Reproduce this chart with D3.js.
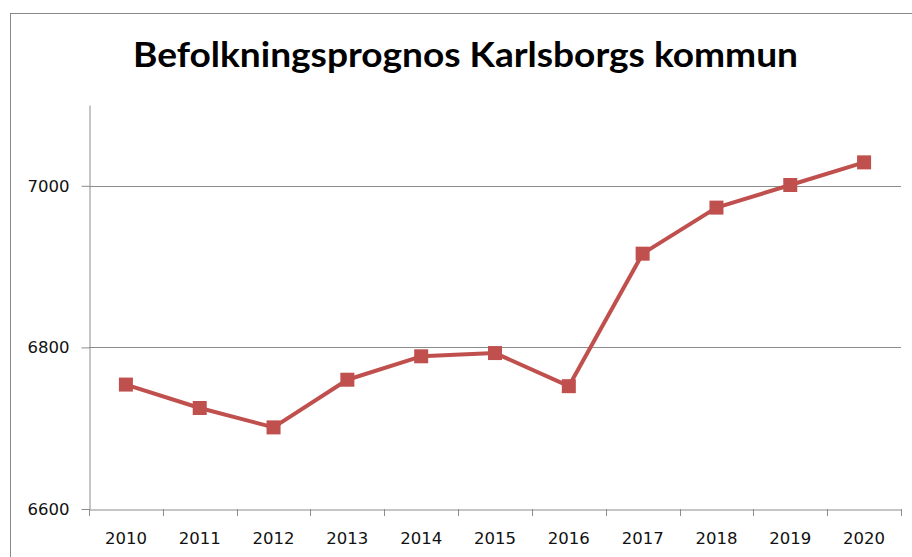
<!DOCTYPE html>
<html>
<head>
<meta charset="utf-8">
<script src="https://cdn.jsdelivr.net/npm/d3@7"></script>
<style>
  body { margin: 0; background: #fff; }
  svg { display: block; }
</style>
</head>
<body>
<div id="chart"></div>
<script>
// Chart data
const years = ['2010', '2011', '2012', '2013', '2014', '2015', '2016', '2017', '2018', '2019', '2020'];
const population = [6754, 6725, 6701, 6760, 6789, 6793, 6752, 6916, 6973, 7001, 7029];
const yTicks = [6600, 6800, 7000];
const yDomain = [6600, 7100];
const title = 'Befolkningsprognos Karlsborgs kommun';

const svgWidth = 912;
const svgHeight = 557;
const margin = { top: 105, right: 11, bottom: 48, left: 89 };
const chartWidth = svgWidth - margin.left - margin.right;
const chartHeight = 509 - margin.top;

let svg = d3.select('#chart')
    .append('svg')
    .attr('width', svgWidth)
    .attr('height', svgHeight);

// Outer chart border
svg.append('rect')
    .attr('x', 10.5)
    .attr('y', 13.5)
    .attr('width', svgWidth)
    .attr('height', svgHeight)
    .style('fill', 'none')
    .style('stroke', '#888')
    .style('stroke-width', 1);

// Title
svg.append('text')
    .attr('x', 133)
    .attr('y', 67)
    .attr('textLength', 665)
    .attr('lengthAdjust', 'spacingAndGlyphs')
    .style('font-family', 'Lato, sans-serif')
    .style('font-weight', 'bold')
    .style('font-size', '35px')
    .style('fill', '#000')
    .text(title);

let chart = svg.append('g')
    .attr('transform', `translate(${margin.left}, ${margin.top})`);

// Scales
let xScale = d3.scaleBand()
    .domain(years)
    .range([0, chartWidth]);

let yScale = d3.scaleLinear()
    .domain(yDomain)
    .range([chartHeight, 0]);

// Gridlines
chart.selectAll('.grid')
    .data(yTicks.filter(d => d !== yDomain[0]))
    .enter()
    .append('line')
    .attr('class', 'grid')
    .attr('x1', 0)
    .attr('x2', chartWidth)
    .attr('y1', d => Math.round(yScale(d)) + 0.5)
    .attr('y2', d => Math.round(yScale(d)) + 0.5)
    .style('stroke', '#8c8c8c')
    .style('stroke-width', 1);

// Y axis
let yAxis = chart.append('g')
    .attr('transform', 'translate(0.5, 0)')
    .call(d3.axisLeft(yScale).tickValues(yTicks).tickFormat(d3.format('d'))
        .tickSize(8).tickPadding(12).tickSizeOuter(0));

// X axis
let xAxis = chart.append('g')
    .attr('transform', `translate(0, ${chartHeight + 0.5})`)
    .call(d3.axisBottom(xScale).tickSize(0).tickPadding(23).tickSizeOuter(0));

// Category tick marks between bands
chart.selectAll('.xtick')
    .data(d3.range(years.length + 1))
    .enter()
    .append('line')
    .attr('class', 'xtick')
    .attr('x1', i => Math.round(i * xScale.step()) + 0.5)
    .attr('x2', i => Math.round(i * xScale.step()) + 0.5)
    .attr('y1', chartHeight)
    .attr('y2', chartHeight + 7)
    .style('stroke', '#8c8c8c');

[xAxis, yAxis].forEach(ax => {
    ax.attr('font-family', null).attr('font-size', null);
    ax.selectAll('path, line').style('stroke', '#8c8c8c');
    ax.selectAll('text')
        .style('font-family', "'DejaVu Sans', Verdana, sans-serif")
        .style('font-size', '16.5px')
        .style('fill', '#111');
});

// Line
let line = d3.line()
    .x((d, i) => xScale(years[i]) + xScale.bandwidth() / 2)
    .y(d => yScale(d));

chart.append('path')
    .datum(population)
    .attr('d', line)
    .style('fill', 'none')
    .style('stroke', '#c0504d')
    .style('stroke-width', 4)
    .style('stroke-linejoin', 'round');

// Markers
chart.selectAll('.marker')
    .data(population)
    .enter()
    .append('rect')
    .attr('class', 'marker')
    .attr('x', (d, i) => xScale(years[i]) + xScale.bandwidth() / 2 - 7)
    .attr('y', d => yScale(d) - 7)
    .attr('width', 14)
    .attr('height', 14)
    .style('fill', '#c0504d');
</script>
</body>
</html>
